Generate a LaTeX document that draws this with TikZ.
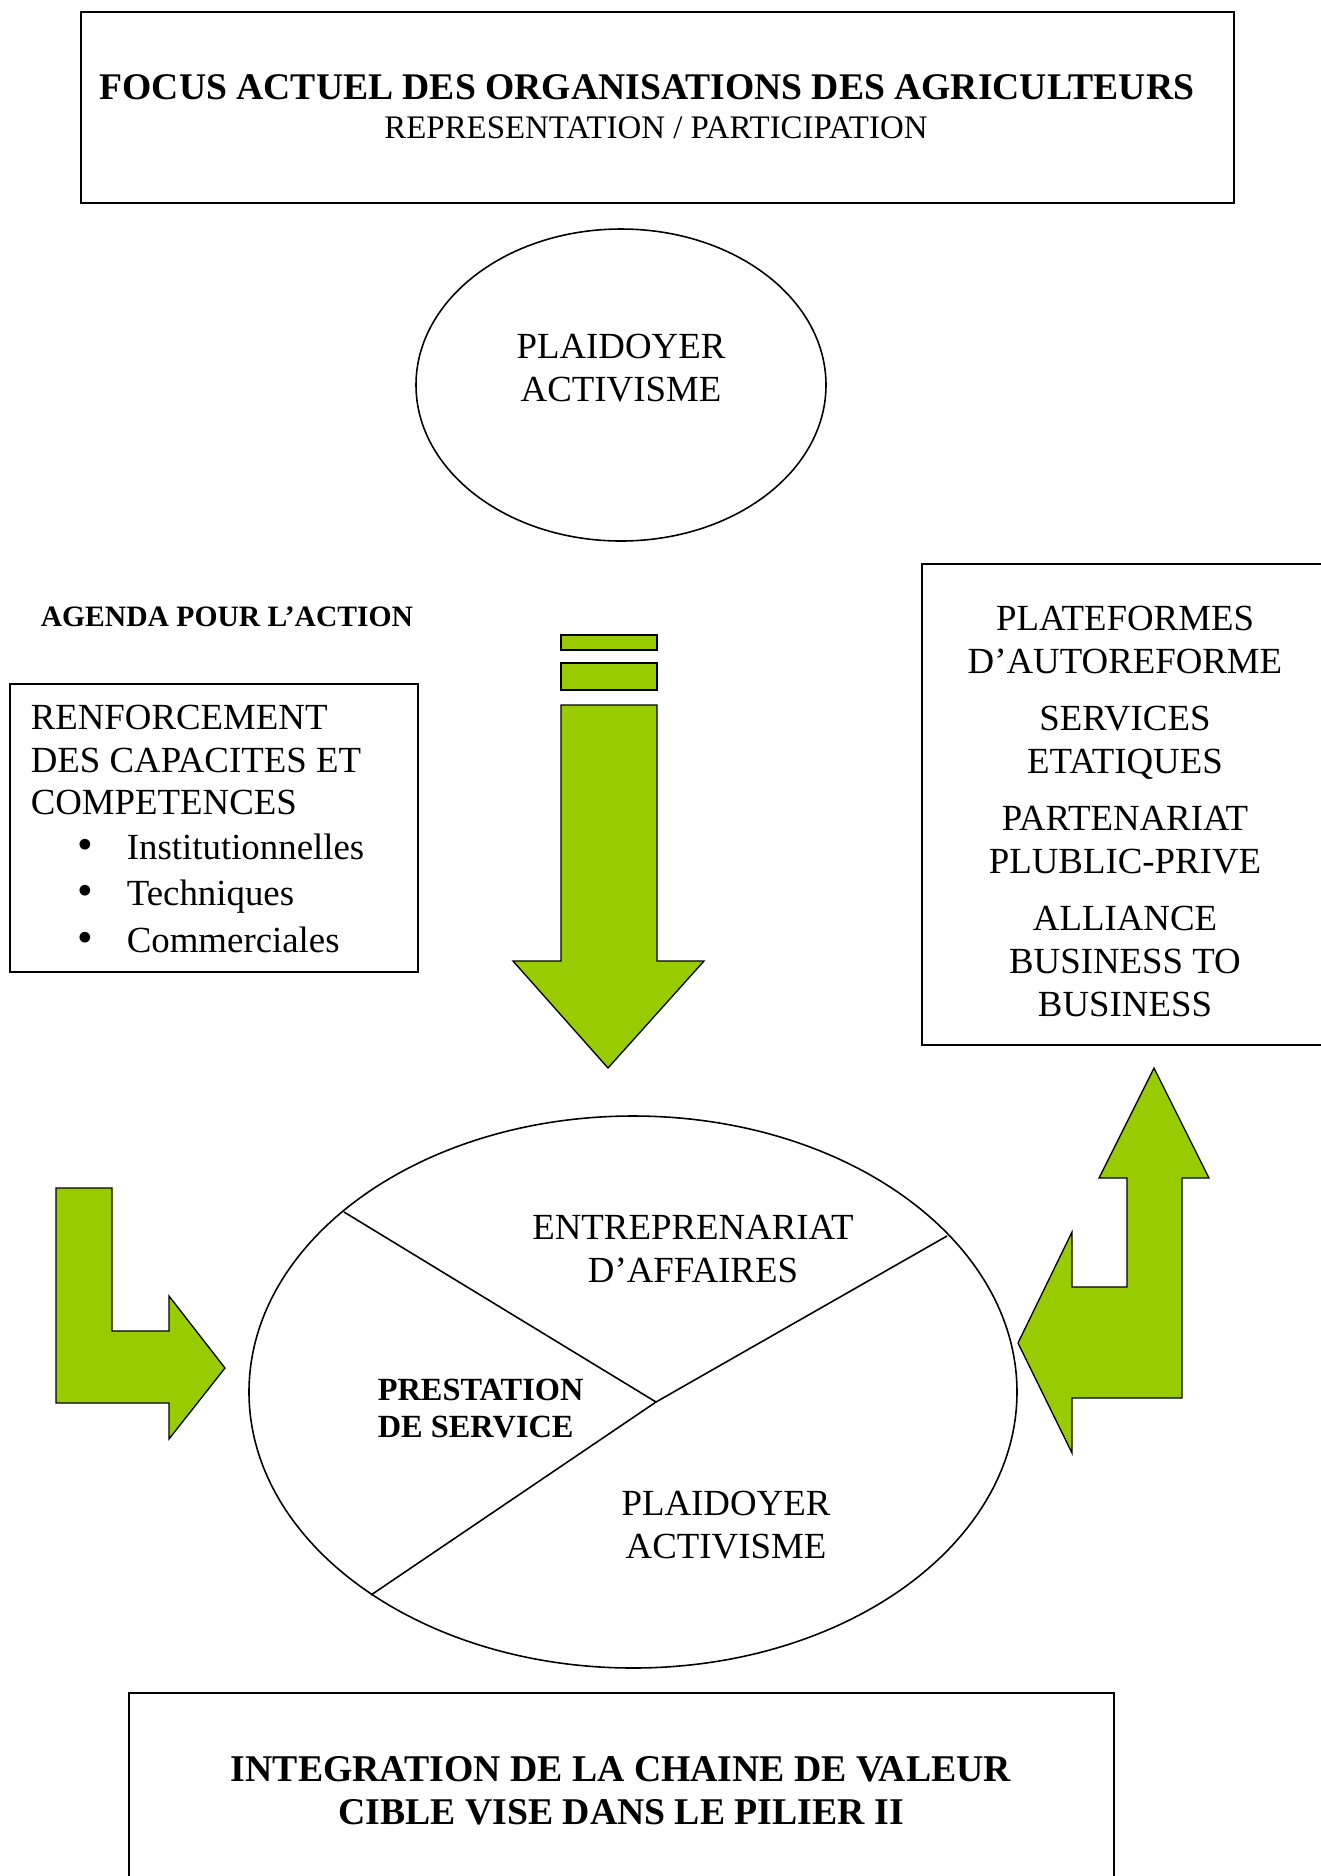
\documentclass[tikz,border=0pt]{standalone}
\usepackage{fontspec}
\setmainfont{Liberation Serif}
\usepackage{xcolor}
\usepackage{tikz}
\usetikzlibrary{positioning}

\definecolor{lime}{RGB}{153,204,0}
\newcommand\listdot{\hspace*{17.6pt}\makebox[18.9pt][l]{\fontsize{17}{16}\selectfont\textbullet}}

\begin{document}
\begin{tikzpicture}[x=0.38pt, y=-0.38pt, line width=0.6pt,
    big/.style={font=\fontsize{14}{16.3}\selectfont, inner sep=0, align=center},
    bigbold/.style={big, font=\fontsize{14.3}{16.3}\selectfont\bfseries},
    small/.style={font=\fontsize{12.5}{14}\selectfont, inner sep=0, align=center},
    blockarrow/.style={fill=lime, draw=black, line width=0.5pt, line join=miter}]
    \useasboundingbox (0,0) rectangle (1321,1876);
    \clip (0,0) rectangle (1321,1876);

    % focus box
    \draw (81,12) rectangle (1234,203);
    \node[bigbold, anchor=base] (focus) at (647,99) {FOCUS ACTUEL DES ORGANISATIONS DES AGRICULTEURS};
    \node[small, anchor=base] (repr) at (656,138.5) {REPRESENTATION / PARTICIPATION};

    \draw (621,385) ellipse [x radius=205, y radius=156];
    \node[big, anchor=base] (plaidtop) at (621,401) {PLAIDOYER\\ACTIVISME};

    % agenda
    \node[font=\fontsize{11.25}{13}\selectfont\bfseries, inner sep=0, anchor=base west] (agenda) at (40,626) {AGENDA POUR L’ACTION};

    \draw (10,684) rectangle (418,972);
    \node[big, align=left, anchor=base west] (renf) at (30,952) {
        RENFORCEMENT\\
        DES CAPACITES ET\\
        COMPETENCES\\[0.8pt]
        \listdot Institutionnelles\\[1pt]
        \listdot Techniques\\[1.4pt]
        \listdot Commerciales
    };

    \draw (922,564) rectangle (1340,1045);
    \node[big, anchor=base] (plat) at (1125,1016) {
        PLATEFORMES\\
        D’AUTOREFORME\\[5.2pt]
        SERVICES\\
        ETATIQUES\\[5.4pt]
        PARTENARIAT\\
        PLUBLIC-PRIVE\\[5.4pt]
        ALLIANCE\\
        BUSINESS TO\\
        BUSINESS
    };

    % down arrow
    \filldraw[blockarrow] (561,635) rectangle (657,650);
    \filldraw[blockarrow] (561,663) rectangle (657,690);
    \filldraw[blockarrow] (561,705) -- (657,705) -- (657,961) -- (704,961)
        -- (608,1068) -- (513,961) -- (561,961) -- cycle;

    % pie
    \draw (633,1392) ellipse [x radius=384, y radius=276];
    \coordinate (hub) at (656,1402);
    \coordinate (cutA) at (344,1212);
    \coordinate (cutB) at (947,1236);
    \coordinate (cutC) at (371,1595);
    \draw (cutA) -- (hub) -- (cutB);
    \draw (hub) -- (cutC);
    \node[big, anchor=base] (entre) at (693,1282) {ENTREPRENARIAT\\D’AFFAIRES};
    \node[small, font=\fontsize{12.3}{14}\selectfont\bfseries, align=left, anchor=base west] (prest) at (377,1437) {PRESTATION\\DE SERVICE};
    \node[big, anchor=base] (plaidpie) at (726,1558) {PLAIDOYER\\ACTIVISME};

    % bent arrows
    \filldraw[blockarrow] (56,1188) -- (112,1188) -- (112,1331) -- (169,1331)
        -- (169,1296) -- (225,1368) -- (169,1439) -- (169,1403) -- (56,1403) -- cycle;
    \filldraw[blockarrow] (1154,1068) -- (1209,1178) -- (1182,1178) -- (1182,1398)
        -- (1072,1398) -- (1072,1453) -- (1018,1343) -- (1072,1232) -- (1072,1287)
        -- (1127,1287) -- (1127,1178) -- (1099,1178) -- cycle;

    % integration box
    \draw (129,1693) rectangle (1114,1900);
    \node[bigbold, font=\fontsize{14.35}{16.3}\selectfont\bfseries, anchor=base] (integ) at (621,1824) {INTEGRATION DE LA CHAINE DE VALEUR\\CIBLE VISE DANS LE PILIER II};
\end{tikzpicture}
\end{document}
